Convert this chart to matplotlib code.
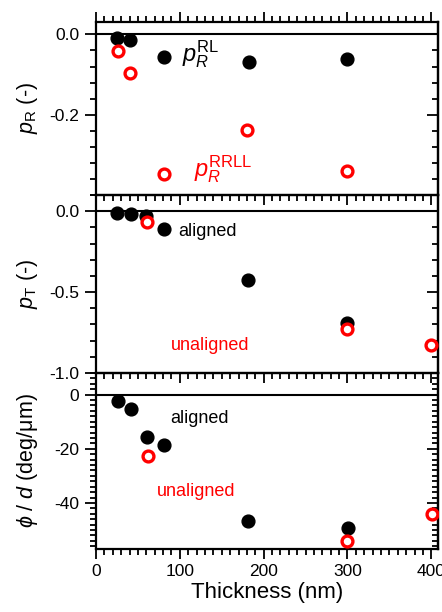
import matplotlib
matplotlib.use("Agg")
import matplotlib.pyplot as plt
from matplotlib.ticker import MultipleLocator, FixedLocator

plt.rcParams['font.family'] = ['Liberation Sans', 'DejaVu Sans']
plt.rcParams['mathtext.fontset'] = 'custom'
plt.rcParams['mathtext.rm'] = 'Liberation Sans'
plt.rcParams['mathtext.it'] = 'Liberation Sans:italic'
plt.rcParams['mathtext.bf'] = 'Liberation Sans:bold'
plt.rcParams['axes.unicode_minus'] = False

# panel 1: reflection
pr_rl_x = [25, 41, 81, 182, 300]
pr_rl_y = [-0.008, -0.015, -0.055, -0.068, -0.062]
pr_rrll_x = [26, 40, 81, 180, 300]
pr_rrll_y = [-0.042, -0.097, -0.347, -0.237, -0.340]

# panel 2: transmission
pt_al_x = [25, 42, 60, 81, 181, 300]
pt_al_y = [-0.010, -0.017, -0.030, -0.110, -0.423, -0.690]
pt_un_x = [61, 300, 400]
pt_un_y = [-0.067, -0.727, -0.826]

# panel 3: rotation per thickness
ph_al_x = [26, 42, 61, 81, 181, 301]
ph_al_y = [-2.5, -5.4, -15.7, -18.6, -46.8, -49.1]
ph_un_x = [62, 300, 401]
ph_un_y = [-22.6, -54.1, -44.0]

RED = '#ff0000'
fig = plt.figure(figsize=(4.42, 6.12), dpi=100)

left, width = 96 / 442, 342 / 442
bounds = [(22, 195), (195, 373), (373, 549)]
axes = []
for top, bot in bounds:
    ax = fig.add_axes([left, 1 - bot / 612, width, (bot - top) / 612])
    ax.set_facecolor('none')
    axes.append(ax)
ax1, ax2, ax3 = axes


def style(ax, ymaj, ymin, ylim, top_ticks=False):
    ax.set_xlim(0, 408)
    ax.set_ylim(*ylim)
    ax.axhline(0, color='black', lw=1.5, zorder=1)
    for s in ax.spines.values():
        s.set_linewidth(1.6)
    ax.xaxis.set_major_locator(MultipleLocator(100))
    ax.xaxis.set_minor_locator(MultipleLocator(10))
    ax.yaxis.set_major_locator(FixedLocator(ymaj))
    ax.yaxis.set_minor_locator(MultipleLocator(ymin))
    ax.tick_params(axis='x', which='both', direction='out', top=top_ticks,
                   bottom=True, width=1.3, labelsize=12.5, pad=4)
    ax.tick_params(axis='x', which='major', length=7)
    ax.tick_params(axis='x', which='minor', length=4)
    ax.tick_params(axis='y', which='both', direction='out', left=True,
                   right=False, width=1.3, labelsize=12.5, pad=4)
    ax.tick_params(axis='y', which='major', length=8)
    ax.tick_params(axis='y', which='minor', length=4)
    sec = ax.secondary_yaxis('right')
    sec.yaxis.set_major_locator(FixedLocator(ymaj))
    sec.yaxis.set_minor_locator(MultipleLocator(ymin))
    sec.tick_params(which='both', direction='in', labelright=False, width=1.3)
    sec.tick_params(which='major', length=8)
    sec.tick_params(which='minor', length=4)
    sec.spines['right'].set_linewidth(1.6)


style(ax1, [0.0, -0.2], 0.04, (-0.40, 0.031), top_ticks=True)
style(ax2, [0.0, -0.5, -1.0], 0.1, (-1.0, 0.1))
style(ax3, [0, -20, -40], 2, (-57, 8))

ax1.yaxis.set_major_formatter(plt.FormatStrFormatter('%.1f'))
ax2.yaxis.set_major_formatter(plt.FormatStrFormatter('%.1f'))
ax1.tick_params(labelbottom=False)
ax2.tick_params(labelbottom=False)

filled = dict(marker='o', ls='none', ms=9.2, color='black', zorder=3)
opened = dict(marker='o', ls='none', ms=7.8, mfc='white', mec=RED, mew=2.4,
              zorder=4)

ax1.plot(pr_rl_x, pr_rl_y, **filled)
ax1.plot(pr_rrll_x, pr_rrll_y, **opened)
ax1.text(103, -0.05, r'$p_R^{\mathrm{RL}}$', fontsize=17, color='black',
         va='center', ha='left')
ax1.text(117, -0.335, r'$p_R^{\mathrm{RRLL}}$', fontsize=17, color=RED,
         va='center', ha='left')

ax2.plot(pt_al_x, pt_al_y, **filled)
ax2.plot(pt_un_x, pt_un_y, **opened)
ax2.text(98, -0.128, 'aligned', fontsize=13, color='black', va='center')
ax2.text(89, -0.83, 'unaligned', fontsize=13, color=RED, va='center')

ax3.plot(ph_al_x, ph_al_y, **filled)
ax3.plot(ph_un_x, ph_un_y, **opened)
ax3.text(88, -8.8, 'aligned', fontsize=13, color='black', va='center')
ax3.text(73, -35.7, 'unaligned', fontsize=13, color=RED, va='center')

ax1.set_ylabel(r'$p_{\mathrm{R}}$ (-)', fontsize=15.5)
ax2.set_ylabel(r'$p_{\mathrm{T}}$ (-)', fontsize=15.5)
ax3.set_ylabel(r'$\phi$ / $d$ (deg/μm)', fontsize=15.5)
for ax in axes:
    ax.yaxis.set_label_coords(-0.165, 0.5)
ax3.set_xlabel('Thickness (nm)', fontsize=16, labelpad=2)

fig.savefig('out.png', dpi=100)
